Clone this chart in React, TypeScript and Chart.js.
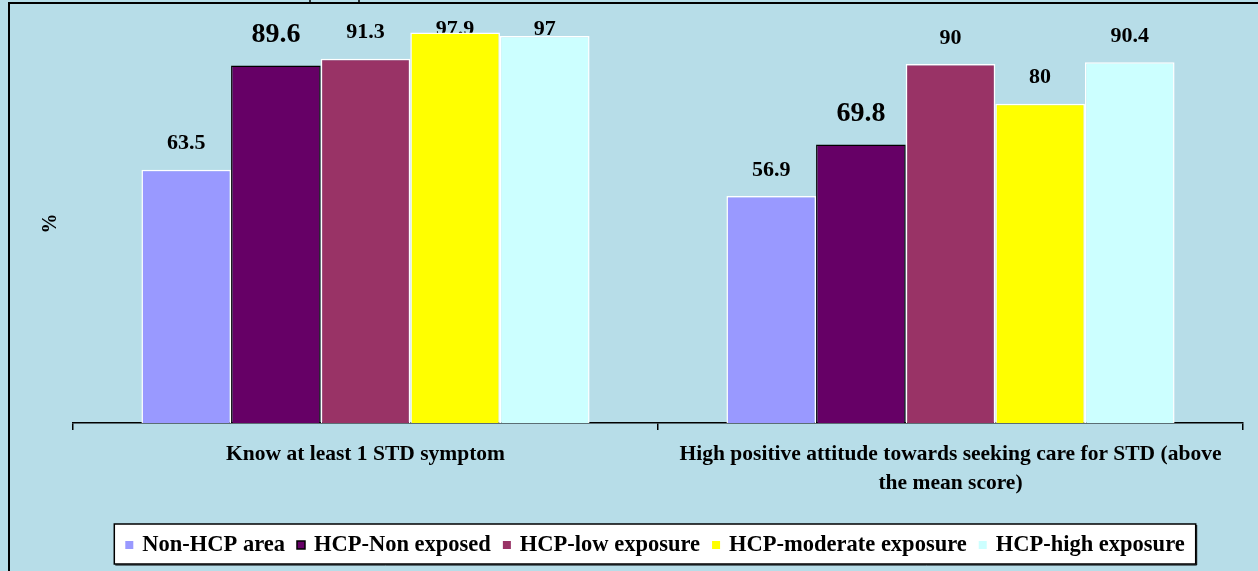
import React, { useEffect, useRef } from "react";
import { Chart, registerables } from "chart.js";

Chart.register(...registerables);

// Categories (multi-line labels are arrays of lines)
const categories: string[][] = [
  ["Know at least 1 STD symptom"],
  ["High positive attitude towards seeking care for STD (above", "the mean score)"],
];

// Series names
const seriesNames = [
  "Non-HCP area",
  "HCP-Non exposed",
  "HCP-low exposure",
  "HCP-moderate exposure",
  "HCP-high exposure",
];

// Percentages per series, one value per category
const nonHcpArea = [63.5, 56.9];
const hcpNonExposed = [89.6, 69.8];
const hcpLowExposure = [91.3, 90];
const hcpModerateExposure = [97.9, 80];
const hcpHighExposure = [97, 90.4];

const seriesValues = [nonHcpArea, hcpNonExposed, hcpLowExposure, hcpModerateExposure, hcpHighExposure];

const seriesColors = ["#9999FF", "#660066", "#993366", "#FFFF00", "#CCFFFF"];
const seriesBorders = ["#FFFFFF", "#000000", "#FFFFFF", "#FFFFFF", "#FFFFFF"];

const BG = "#B7DDE8";
const SERIF = "'Liberation Serif', 'Times New Roman', serif";

// Draws the value above each bar; bars are painted afterwards and may cover a label.
const valueLabels = {
  id: "valueLabels",
  beforeDatasetsDraw(chart: any) {
    const ctx = chart.ctx;
    ctx.save();
    ctx.fillStyle = "#000";
    ctx.textAlign = "center";
    ctx.textBaseline = "middle";
    chart.data.datasets.forEach((ds: any, di: number) => {
      const meta = chart.getDatasetMeta(di);
      const big = di === 1;
      ctx.font = `bold ${big ? 28 : 22}px ${SERIF}`;
      const lift = big ? 31 : 26;
      meta.data.forEach((bar: any, i: number) => {
        const y = Math.max(bar.y - lift, 29);
        ctx.fillText(String(ds.data[i]), bar.x, y);
      });
    });
    ctx.restore();
  },
};

// Boxed legend under the axis, plus the outer frame lines.
const boxedLegend = {
  id: "boxedLegend",
  afterDraw(chart: any) {
    const ctx = chart.ctx;
    const { chartArea } = chart;
    ctx.save();

    // outer frame
    ctx.strokeStyle = "#000";
    ctx.lineWidth = 2;
    ctx.beginPath();
    ctx.moveTo(9, chart.height + 5);
    ctx.lineTo(9, 3);
    ctx.lineTo(chart.width + 5, 3);
    ctx.stroke();
    ctx.lineWidth = 1.5;
    ctx.beginPath();
    ctx.moveTo(310, 0);
    ctx.lineTo(310, 3);
    ctx.moveTo(359, 0);
    ctx.lineTo(359, 3);
    ctx.stroke();

    // legend
    ctx.font = `bold 22.5px ${SERIF}`;
    const marker = 8;
    const gapText = 9;
    const gapItem = 12;
    const widths = seriesNames.map((n) => ctx.measureText(n).width);
    const content =
      widths.reduce((a, w) => a + marker + gapText + w, 0) + gapItem * (seriesNames.length - 1);
    const pad = 11;
    const boxW = content + pad * 2;
    const boxH = 40;
    const cx = (chartArea.left + chartArea.right) / 2 - 3;
    const boxX = cx - boxW / 2;
    const boxY = chart.height - 47;
    ctx.fillStyle = "#FFFFFF";
    ctx.fillRect(boxX, boxY, boxW, boxH);
    ctx.strokeStyle = "#000";
    ctx.lineWidth = 1.5;
    ctx.strokeRect(boxX, boxY, boxW, boxH);
    ctx.lineWidth = 1;
    ctx.beginPath();
    ctx.moveTo(boxX + 1, boxY + boxH + 1);
    ctx.lineTo(boxX + boxW + 1, boxY + boxH + 1);
    ctx.lineTo(boxX + boxW + 1, boxY + 1);
    ctx.stroke();

    let x = boxX + pad;
    const my = boxY + boxH / 2 + 1;
    ctx.textBaseline = "middle";
    ctx.textAlign = "left";
    seriesNames.forEach((name, i) => {
      ctx.fillStyle = seriesColors[i];
      ctx.fillRect(x, my - marker / 2, marker, marker);
      if (seriesBorders[i] === "#000000") {
        ctx.strokeStyle = "#000";
        ctx.lineWidth = 1.5;
        ctx.strokeRect(x, my - marker / 2, marker, marker);
      }
      x += marker + gapText;
      ctx.fillStyle = "#000";
      ctx.fillText(name, x, my);
      x += widths[i] + gapItem;
    });
    ctx.restore();
  },
};

export default function App() {
  const canvasRef = useRef<HTMLCanvasElement | null>(null);

  useEffect(() => {
    if (!canvasRef.current) return;
    const chart = new Chart(canvasRef.current, {
      type: "bar",
      data: {
        labels: categories,
        datasets: seriesNames.map((name, i) => ({
          label: name,
          data: seriesValues[i],
          backgroundColor: seriesColors[i],
          borderColor: seriesBorders[i],
          borderWidth: 1.5,
          barPercentage: 1,
          categoryPercentage: 0.766,
        })),
      },
      options: {
        responsive: false,
        animation: false,
        layout: { padding: { top: 24, right: 15, left: 0, bottom: 0 } },
        plugins: {
          legend: { display: false },
          tooltip: { enabled: false },
        },
        scales: {
          x: {
            grid: {
              display: true,
              drawOnChartArea: false,
              drawTicks: true,
              tickLength: 7,
              color: "#000",
              lineWidth: 1.5,
            },
            border: { display: true, color: "#000", width: 1.5 },
            ticks: {
              color: "#000",
              font: { family: SERIF, size: 21.5, weight: "bold", lineHeight: 1.36 },
              padding: 10,
              maxRotation: 0,
              autoSkip: false,
            },
            afterFit(scale: any) {
              scale.height = 148;
            },
          },
          y: {
            min: 0,
            max: 100,
            grid: { display: false, drawTicks: false },
            border: { display: false },
            ticks: { display: false },
            title: {
              display: true,
              text: "%",
              color: "#000",
              font: { family: SERIF, size: 20, weight: "bold" },
              padding: { top: 39, bottom: 10 },
            },
          },
        },
      },
      plugins: [valueLabels, boxedLegend],
    });
    return () => chart.destroy();
  }, []);

  return (
    <div
      style={{
        position: "absolute",
        left: 0,
        top: 0,
        width: 1258,
        height: 571,
        background: BG,
        overflow: "hidden",
      }}
    >
      <canvas ref={canvasRef} width={1258} height={571} style={{ display: "block" }} />
    </div>
  );
}
